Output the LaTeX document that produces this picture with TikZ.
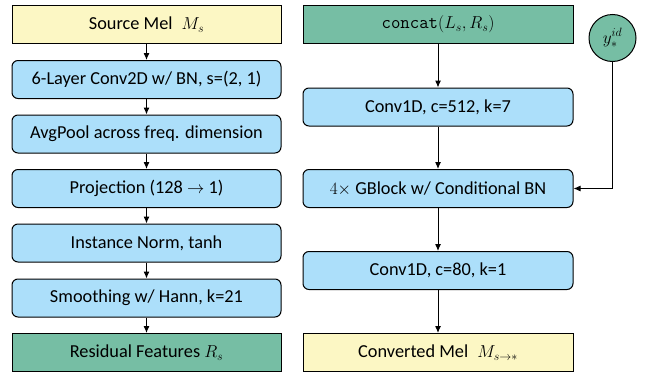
\documentclass[tikz,border=0pt]{standalone}
\usepackage{fontspec}
\setmainfont{Carlito}
\usetikzlibrary{arrows.meta,positioning}
\definecolor{melyellow}{RGB}{252,247,196}
\definecolor{blockblue}{RGB}{172,223,250}
\definecolor{featgreen}{RGB}{118,190,164}
\tikzset{
  base/.style={draw=black, line width=1pt, minimum height=38pt, inner sep=0pt, font=\fontsize{18.3}{22}\selectfont, text=black},
  melbox/.style={base, fill=melyellow, rectangle},
  featbox/.style={base, fill=featgreen, rectangle},
  blockbox/.style={base, fill=blockblue, rounded corners=6pt},
  leftw/.style={minimum width=269pt},
  rightw/.style={minimum width=270pt},
  idcircle/.style={draw=black, line width=1pt, fill=featgreen, circle, minimum size=47pt, inner sep=0pt, font=\fontsize{18.3}{22}\selectfont},
  conn/.style={line width=1pt, -{Latex[length=7pt,width=6pt]}},
}
\begin{document}
\begin{tikzpicture}[x=1pt,y=-1pt]
\useasboundingbox (0,0) rectangle (646,372);
% left column
\node[melbox,leftw] (src) at (146.5,24.5) {Source Mel\enspace $M_s$};
\node[blockbox,leftw] (c2d) at (146.5,79.5) {6-Layer Conv2D w/ BN, s=(2, 1)};
\node[blockbox,leftw] (pool) at (146.5,134) {AvgPool across freq. dimension};
\node[blockbox,leftw] (proj) at (146.5,188.5) {Projection (128 $\rightarrow$ 1)};
\node[blockbox,leftw] (inorm) at (146.5,243) {Instance Norm, tanh};
\node[blockbox,leftw] (smooth) at (146.5,298) {Smoothing w/ Hann, k=21};
\node[featbox,leftw] (res) at (146.5,352.5) {Residual Features $R_s$};
% right column
\node[featbox,rightw] (cat) at (438,24.5) {$\texttt{concat}(L_s, R_s)$};
\node[blockbox,rightw] (c512) at (438,107) {Conv1D, c=512, k=7};
\node[blockbox,rightw] (gblock) at (438,188.5) {$4\times$ GBlock w/ Conditional BN};
\node[blockbox,rightw] (c80) at (438,270.5) {Conv1D, c=80, k=1};
\node[melbox,rightw] (conv) at (438,352.5) {Converted Mel\enspace $M_{s\rightarrow *}$};
\node[idcircle] (yid) at (612.5,38) {$y_*^{id}$};
% connectors
\draw[conn] (src) -- (c2d);
\draw[conn] (c2d) -- (pool);
\draw[conn] (pool) -- (proj);
\draw[conn] (proj) -- (inorm);
\draw[conn] (inorm) -- (smooth);
\draw[conn] (smooth) -- (res);
\draw[conn] (cat) -- (c512);
\draw[conn] (c512) -- (gblock);
\draw[conn] (gblock) -- (c80);
\draw[conn] (c80) -- (conv);
\draw[conn] (yid.south) |- (gblock.east);
\end{tikzpicture}
\end{document}
